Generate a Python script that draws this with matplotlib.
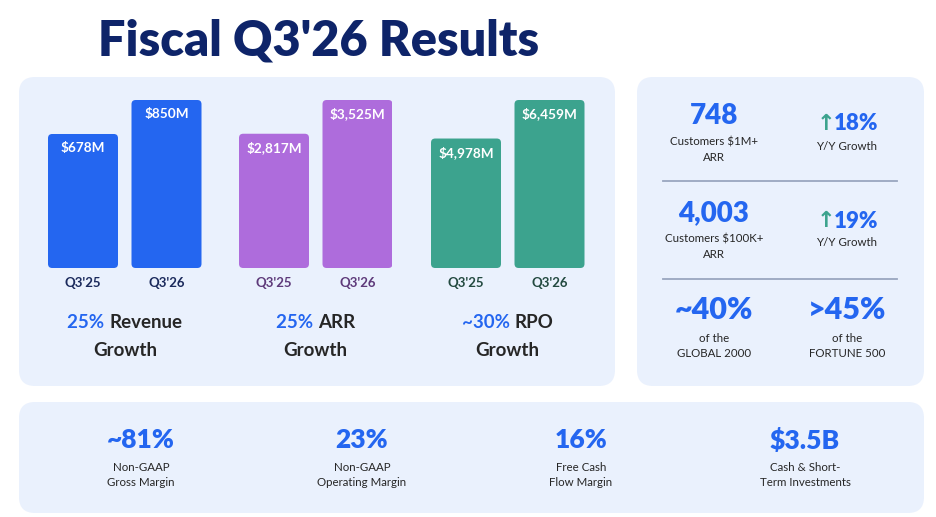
import matplotlib
matplotlib.use("Agg")
import matplotlib.pyplot as plt
from matplotlib.patches import FancyBboxPatch

plt.rcParams['font.family'] = ['Lato', 'DejaVu Sans']

# data
periods = ["Q3'25", "Q3'26"]
revenue = [678, 850]
arr = [2817, 3525]
rpo = [4978, 6459]
bar_labels = [["$678M", "$850M"], ["$2,817M", "$3,525M"], ["$4,978M", "$6,459M"]]
growth_pct = ["25%", "25%", "~30%"]
growth_name = ["Revenue", "ARR", "RPO"]

cust_counts = ["748", "4,003"]
cust_desc = ["Customers $1M+\nARR", "Customers $100K+\nARR"]
cust_growth = ["18%", "19%"]
share_vals = ["~40%", ">45%"]
share_desc = ["of the\nGLOBAL 2000", "of the\nFORTUNE 500"]

margin_vals = ["~81%", "23%", "16%", "$3.5B"]
margin_desc = ["Non-GAAP\nGross Margin", "Non-GAAP\nOperating Margin",
               "Free Cash\nFlow Margin", "Cash & Short-\nTerm Investments"]

W, H = 936, 517
BLUE = "#2466F0"
NAVY = "#0E2469"
DARK = "#262626"
PANEL = "#EAF1FD"
bar_colors = ["#2466F0", "#AE6CDC", "#3CA38E"]
tick_colors = ["#1B2A5C", "#5E3A7A", "#234A40"]

fig = plt.figure(figsize=(W / 100, H / 100), dpi=100)
fig.patch.set_facecolor("white")

bg = fig.add_axes([0, 0, 1, 1], zorder=0)
bg.set_xlim(0, W)
bg.set_ylim(H, 0)
bg.axis("off")

def panel(x0, y0, x1, y1):
    bg.add_patch(FancyBboxPatch((x0, y0), x1 - x0, y1 - y0,
                                boxstyle="round,pad=0,rounding_size=16",
                                fc=PANEL, ec="none"))

panel(19, 77, 615, 386)
panel(637, 77, 924, 386)
panel(19, 402, 924, 513)

bg.text(319, 41, "Fiscal Q3'26 Results", fontsize=35, fontweight="heavy",
        color=NAVY, ha="center", va="center")

# bar groups
series = [revenue, arr, rpo]
group_left = [48, 239, 431]
step = 83.5
bw = 70
y_top, y_bot = 100, 268
fig.canvas.draw()
r = fig.canvas.get_renderer()
for g, vals in enumerate(series):
    left_px = group_left[g]
    span = step + bw
    ax = fig.add_axes([left_px / W, 1 - y_bot / H, span / W, (y_bot - y_top) / H], zorder=2)
    ax.patch.set_alpha(0)
    half = bw / step / 2
    ax.set_xlim(-half, 1 + half)
    ax.set_ylim(0, max(vals))
    ax.axis("off")
    bars = ax.bar(range(len(vals)), vals, width=bw / step, color=bar_colors[g])
    px = max(vals) / (y_bot - y_top)
    aspect = px * step
    for i, b in enumerate(bars):
        b.set_visible(False)
        ax.add_patch(FancyBboxPatch((b.get_x(), 0), b.get_width(), b.get_height(),
                                    boxstyle="round,pad=0,rounding_size=0.05",
                                    mutation_aspect=aspect, fc=bar_colors[g], ec="none"))
        ax.text(i, b.get_height() - 14 * px, bar_labels[g][i],
                color="white", fontsize=9.8, fontweight="bold", ha="center", va="center")
        ax.text(i, -15 * px, periods[i], color=tick_colors[g],
                fontsize=9.5, fontweight="bold", ha="center", va="center", clip_on=False)

    # two-colour growth caption, centred under the group
    cx = left_px + span / 2
    full = growth_pct[g] + " " + growth_name[g]
    tmp = bg.text(0, 0, full, fontsize=13.5, fontweight="bold")
    wfull = tmp.get_window_extent(r).width
    tmp.remove()
    t = bg.text(cx - wfull / 2, 322, growth_pct[g] + " ", fontsize=13.5,
                fontweight="bold", color=BLUE, ha="left", va="center")
    wpct = t.get_window_extent(r).width
    bg.text(cx - wfull / 2 + wpct, 322, growth_name[g], fontsize=13.5,
            fontweight="bold", color=DARK, ha="left", va="center")
    bg.text(cx, 350, "Growth", fontsize=13.5, fontweight="bold", color=DARK,
            ha="center", va="center")

# right panel
for k in range(2):
    yb = [116, 213][k]
    bg.text(714, yb, cust_counts[k], fontsize=20, fontweight="heavy", color=BLUE,
            ha="center", va="center")
    bg.text(714, yb + 34, cust_desc[k], fontsize=8.3, color=DARK, ha="center",
            va="center", linespacing=1.55)
    bg.text(826, yb + 8, "\u2191", fontsize=16, fontweight="bold", color="#3CA38E",
            ha="center", va="center", family="DejaVu Sans")
    bg.text(834, yb + 8, cust_growth[k], fontsize=16, fontweight="heavy", color=BLUE,
            ha="left", va="center")
    bg.text(847, yb + 30, "Y/Y Growth", fontsize=8.3, color=DARK, ha="center", va="center")
for yl in [181, 279]:
    bg.plot([663, 897], [yl, yl], color="#9AA6BF", lw=1.3)
for k in range(2):
    xc = [714, 847][k]
    bg.text(xc, 310, share_vals[k], fontsize=22, fontweight="heavy", color=BLUE,
            ha="center", va="center")
    bg.text(xc, 346, share_desc[k], fontsize=8.3, color=DARK, ha="center",
            va="center", linespacing=1.55)

# bottom panel
for k, xc in enumerate([141, 362, 581, 805]):
    bg.text(xc, 440, margin_vals[k], fontsize=19, fontweight="heavy", color=BLUE,
            ha="center", va="center")
    bg.text(xc, 475, margin_desc[k], fontsize=8.3, color=DARK, ha="center",
            va="center", linespacing=1.55)

fig.savefig("out.png", dpi=100)
